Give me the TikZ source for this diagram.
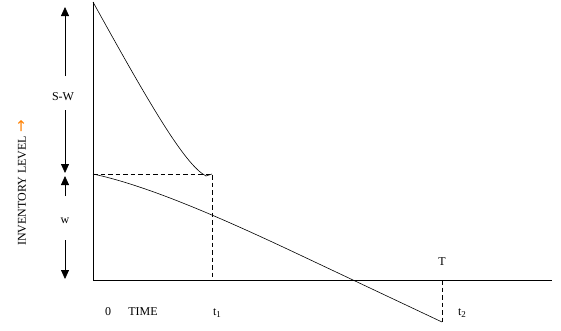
\documentclass[tikz,border=0pt]{standalone}
\usepackage{fontspec}
\setmainfont{Liberation Serif}
\newfontfamily\symfont{DejaVu Sans}
\usetikzlibrary{arrows.meta}
\newcommand{\subidx}[1]{\raisebox{-2.5pt}{\fontsize{9}{9}\selectfont #1}}
\begin{document}
\begin{tikzpicture}[x=1pt,y=-1pt,
  line/.style={line width=0.6pt},
  dashline/.style={line width=0.8pt,dash pattern=on 4.5pt off 3pt},
  dimarrow/.style={line width=0.8pt,-{Triangle[length=9pt,width=8pt]}},
  lbl/.style={font=\fontsize{12}{13}\selectfont,inner sep=1pt}]
\useasboundingbox (0,0) rectangle (561,330);
% axes
\coordinate (O) at (93,280);
\coordinate (Ytop) at (93,2);
\coordinate (Xend) at (552,280);
\draw[line] (Ytop) -- (O) -- (Xend);
% key points
\coordinate (W) at (93,174);
\coordinate (E1) at (206,176);
\coordinate (D1) at (212,174);
\coordinate (D1b) at (212,280);
\coordinate (Tp) at (442,280);
\coordinate (Bot) at (442,322);
% upper curve
\draw[line] (Ytop) .. controls (150,105) and (185,165) .. (E1) -- (D1);
% lower curve
\draw[line] (W) .. controls (150,186) and (228,221) .. (300,255) -- (Bot);
% dashed lines
\draw[dashline] (W) -- (D1) -- (D1b);
\draw[dashline] (Tp) -- (Bot);
% dimension arrows
\node[lbl] (sw) at (63,97) {S-W};
\node[lbl] (w) at (65,221) {w};
\coordinate (a1) at (65,7);
\coordinate (a2) at (65,173);
\coordinate (a3) at (65,176);
\coordinate (a4) at (65,279);
\draw[dimarrow] (65,76) -- (a1);
\draw[dimarrow] (65,110) -- (a2);
\draw[dimarrow] (65,196) -- (a3);
\draw[dimarrow] (65,240) -- (a4);
% labels
\node[lbl,rotate=90] (ylab) at (22,183) {INVENTORY LEVEL {\symfont\color{orange}\fontsize{15}{15}\selectfont→}};
\node[lbl] (zero) at (108,312) {0};
\node[lbl] (time) at (143,312) {TIME};
\node[lbl] (t1) at (217,313) {t\subidx{1}};
\node[lbl] (T) at (442,262) {T};
\node[lbl] (t2) at (462,313) {t\subidx{2}};
\end{tikzpicture}
\end{document}
